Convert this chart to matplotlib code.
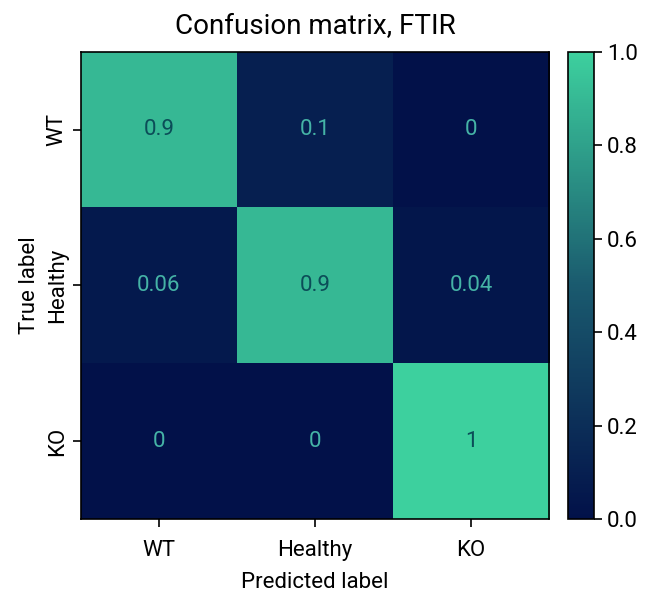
import numpy as np
import matplotlib
matplotlib.use('Agg')
import matplotlib.pyplot as plt
from matplotlib.colors import LinearSegmentedColormap

plt.rcParams.update({
    "font.family": ["Roboto", "DejaVu Sans"],
    "font.size": 17,
})

# Data
labels = ["WT", "Healthy", "KO"]
cm = np.array([
    [0.9, 0.1, 0.0],
    [0.06, 0.9, 0.04],
    [0.0, 0.0, 1.0],
])
cell_text = [
    ["0.9", "0.1", "0"],
    ["0.06", "0.9", "0.04"],
    ["0", "0", "1"],
]

cmap = LinearSegmentedColormap.from_list("navy_teal", ["#021149", "#1a5a6e", "#3dd09e"])
text_on_dark = "#45b3a6"
text_on_light = "#0b4d58"

fig = plt.figure(figsize=(6.51, 5.93), dpi=100)
ax = fig.add_axes([0.1244, 0.1248, 0.7189, 0.7875])
cax = fig.add_axes([0.8725, 0.1248, 0.040, 0.7875])

im = ax.imshow(cm, cmap=cmap, vmin=0, vmax=1, aspect='auto', interpolation='nearest')
cb = fig.colorbar(im, cax=cax)
cb.set_ticks([0.0, 0.2, 0.4, 0.6, 0.8, 1.0])
cb.ax.tick_params(labelsize=16, length=6, width=1.2)
cb.outline.set_linewidth(1.2)

for i in range(3):
    for j in range(3):
        color = text_on_light if cm[i, j] > 0.5 else text_on_dark
        ax.text(j, i, cell_text[i][j], ha='center', va='center', color=color, fontsize=16)

ax.set_xticks(range(3))
ax.set_xticklabels(labels)
ax.set_yticks(range(3))
ax.set_yticklabels(labels, rotation=90, va='center')
ax.tick_params(labelsize=16, length=6, width=1.2)
ax.tick_params(axis='x', pad=9)
for s in ax.spines.values():
    s.set_linewidth(1.2)
ax.set_xlabel("Predicted label", fontsize=16, labelpad=8)
ax.set_ylabel("True label", fontsize=16, labelpad=5)
ax.set_title("Confusion matrix, FTIR", fontsize=20, pad=13)

fig.savefig("out.png", dpi=100)
